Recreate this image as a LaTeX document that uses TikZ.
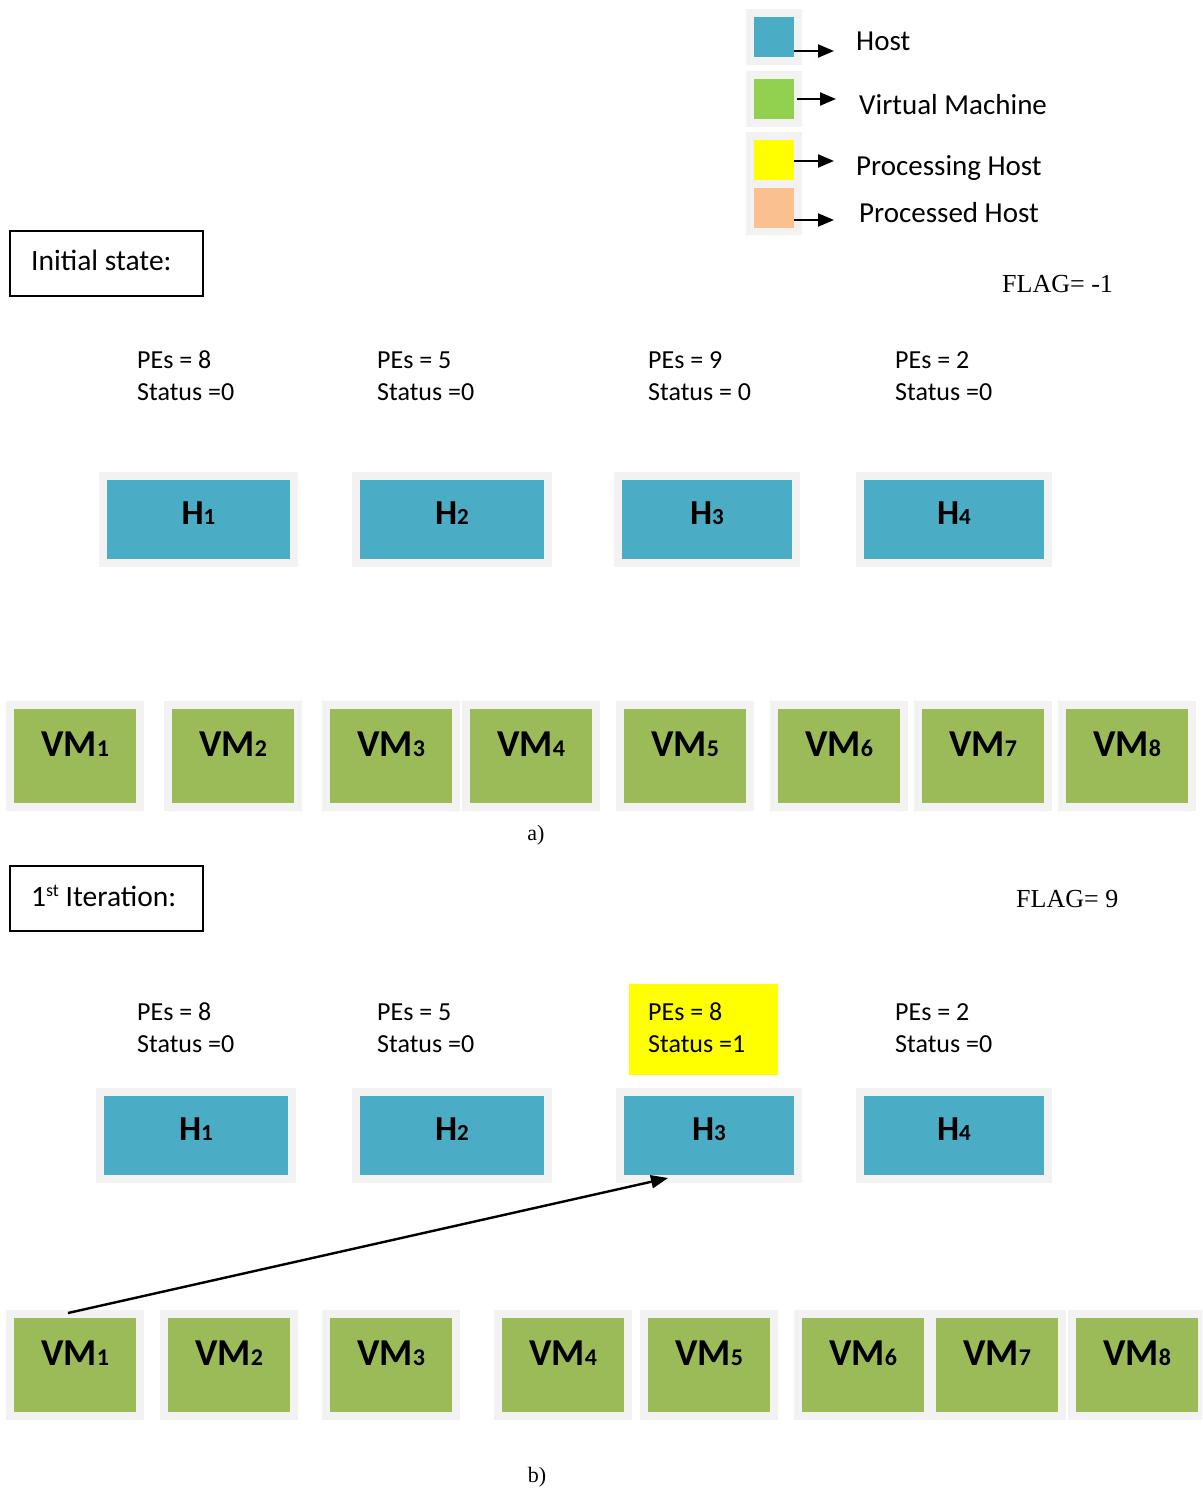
\documentclass[tikz,border=0pt]{standalone}
\usepackage{fontspec}
\setmainfont{Carlito}
\newfontfamily\timesfont{Liberation Serif}
\usetikzlibrary{arrows.meta,calc}

\definecolor{framegray}{HTML}{F2F2F2}
\definecolor{hostblue}{HTML}{4BACC6}
\definecolor{vmgreen}{HTML}{9BBB59}
\definecolor{leggreen}{HTML}{92D050}
\definecolor{procyellow}{HTML}{FFFF00}
\definecolor{donepeach}{HTML}{FAC090}

% box labels: bold letters with a small digit on the same baseline
\newcommand\hlab[1]{\bfseries{\fontsize{35}{42}\selectfont H}{\fontsize{23}{28}\selectfont #1}}
\newcommand\vmlab[1]{\bfseries{\fontsize{38}{45}\selectfont VM}{\fontsize{24}{29}\selectfont #1}}

% a coloured box on a light gray frame: name, x1, y1, x2, y2, style, label
\newcommand\framedcell[7]{%
  \fill[framegray] (#2-8,#3-8) rectangle (#4+8,#5+8);
  \node[#6, minimum width={(#4-#2)*1pt}] (#1) at ({(#2+#4)/2},{(#3+#5)/2}) {#7};
}

\begin{document}
\begin{tikzpicture}[x=1pt,y=-1pt,
  hostcell/.style={fill=hostblue, inner sep=0pt, outer sep=0pt, text height=44pt, text depth=35pt},
  vmcell/.style={fill=vmgreen, inner sep=0pt, outer sep=0pt, text height=47pt, text depth=47pt},
  legsq/.style={inner sep=0pt, outer sep=0pt, minimum width=40pt, minimum height=40pt},
  legtext/.style={anchor=base west, inner sep=0pt, font=\fontsize{29}{35}\selectfont},
  info/.style={anchor=base west, inner sep=0pt, font=\fontsize{26}{32}\selectfont},
  flagtext/.style={anchor=base west, inner sep=0pt, font=\timesfont\fontsize{26}{32}\selectfont},
  captext/.style={anchor=base, inner sep=0pt, font=\timesfont\fontsize{22}{26}\selectfont},
  titlebox/.style={draw=black, line width=1.6pt, inner sep=0pt, minimum width=193pt, minimum height=65pt},
  titletext/.style={anchor=base west, inner sep=0pt, font=\fontsize{29.5}{35}\selectfont},
  legarrow/.style={line width=2pt, -{Triangle[length=16pt,width=13pt]}},
  moveline/.style={line width=2.4pt, -{Triangle[length=17pt,width=13pt]}}
]
\useasboundingbox (0,0) rectangle (1202,1488);
\clip (0,0) rectangle (1202,1488);

% ---------------- legend ----------------
\fill[framegray] (746,9) rectangle (802,65);
\fill[framegray] (746,71) rectangle (802,127);
\fill[framegray] (746,132) rectangle (802,235);
\node[legsq, fill=hostblue]   (lhost) at (774,37)  {};
\node[legsq, fill=leggreen]   (lvm)   at (774,99)  {};
\node[legsq, fill=procyellow] (lproc) at (774,160) {};
\node[legsq, fill=donepeach]  (ldone) at (774,208) {};
\draw[legarrow] ([yshift=-14pt]lhost.east) -- ++(40,0);
\draw[legarrow] ([xshift=3pt]lvm.east) -- ++(39,0);
\draw[legarrow] ([yshift=-1pt]lproc.east) -- ++(40,0);
\draw[legarrow] ([yshift=-12pt]ldone.east) -- ++(40,0);
\node[legtext] (thost) at (856,51)  {Host};
\node[legtext] (tvm)   at (859,114) {Virtual Machine};
\node[legtext] (tproc) at (856,175) {Processing Host};
\node[legtext] (tdone) at (859,222) {Processed Host};

% ---------------- a) initial state ----------------
\node[titlebox] (inittitle) at (106.5,263.5) {};
\node[titletext] (inittext) at (31,270) {Initial state:};
\node[flagtext] (flaga) at (1002,292) {FLAG= -1};

\node[info] (pea1) at (137,368) {PEs = 8};
\node[info] (sta1) at (137,400) {Status =0};
\node[info] (pea2) at (377,368) {PEs = 5};
\node[info] (sta2) at (377,400) {Status =0};
\node[info] (pea3) at (648,368) {PEs = 9};
\node[info] (sta3) at (648,400) {Status = 0};
\node[info] (pea4) at (895,368) {PEs = 2};
\node[info] (sta4) at (895,400) {Status =0};

\framedcell{ha1}{107}{480}{290}{559}{hostcell}{\hlab{1}}
\framedcell{ha2}{360}{480}{544}{559}{hostcell}{\hlab{2}}
\framedcell{ha3}{622}{480}{792}{559}{hostcell}{\hlab{3}}
\framedcell{ha4}{864}{480}{1044}{559}{hostcell}{\hlab{4}}

\framedcell{va1}{14}{709}{136}{803}{vmcell}{\vmlab{1}}
\framedcell{va2}{172}{709}{294}{803}{vmcell}{\vmlab{2}}
\framedcell{va3}{330}{709}{452}{803}{vmcell}{\vmlab{3}}
\framedcell{va4}{470}{709}{592}{803}{vmcell}{\vmlab{4}}
\framedcell{va5}{624}{709}{746}{803}{vmcell}{\vmlab{5}}
\framedcell{va6}{778}{709}{900}{803}{vmcell}{\vmlab{6}}
\framedcell{va7}{922}{709}{1044}{803}{vmcell}{\vmlab{7}}
\framedcell{va8}{1066}{709}{1188}{803}{vmcell}{\vmlab{8}}

\node[captext] (capa) at (536,840) {a)};

% ---------------- b) first iteration ----------------
\node[titlebox] (itertitle) at (106.5,898.5) {};
\node[titletext] (itertext) at (31,906)
  {1\raisebox{10pt}{\fontsize{18}{21}\selectfont st} Iteration:};
\node[flagtext] (flagb) at (1016,907) {FLAG= 9};

\node[fill=procyellow, minimum width=149pt, minimum height=91pt, inner sep=0pt] (procmark) at (703.5,1029.5) {};

\node[info] (peb1) at (137,1020) {PEs = 8};
\node[info] (stb1) at (137,1052) {Status =0};
\node[info] (peb2) at (377,1020) {PEs = 5};
\node[info] (stb2) at (377,1052) {Status =0};
\node[info] (peb3) at (648,1020) {PEs = 8};
\node[info] (stb3) at (648,1052) {Status =1};
\node[info] (peb4) at (895,1020) {PEs = 2};
\node[info] (stb4) at (895,1052) {Status =0};

\framedcell{hb1}{104}{1096}{288}{1175}{hostcell}{\hlab{1}}
\framedcell{hb2}{360}{1096}{544}{1175}{hostcell}{\hlab{2}}
\framedcell{hb3}{624}{1096}{794}{1175}{hostcell}{\hlab{3}}
\framedcell{hb4}{864}{1096}{1044}{1175}{hostcell}{\hlab{4}}

\framedcell{vb1}{14}{1318}{136}{1412}{vmcell}{\vmlab{1}}
\framedcell{vb2}{168}{1318}{290}{1412}{vmcell}{\vmlab{2}}
\framedcell{vb3}{330}{1318}{452}{1412}{vmcell}{\vmlab{3}}
\framedcell{vb4}{502}{1318}{624}{1412}{vmcell}{\vmlab{4}}
\framedcell{vb5}{648}{1318}{770}{1412}{vmcell}{\vmlab{5}}
\framedcell{vb6}{802}{1318}{924}{1412}{vmcell}{\vmlab{6}}
\framedcell{vb7}{936}{1318}{1058}{1412}{vmcell}{\vmlab{7}}
\framedcell{vb8}{1076}{1318}{1198}{1412}{vmcell}{\vmlab{8}}

% VM1 is placed on H3
\draw[moveline] ($(vb1.north)+(-7,-5)$) -- ($(hb3.south)+(-41,3)$);

\node[captext] (capb) at (537,1482) {b)};
\end{tikzpicture}
\end{document}
